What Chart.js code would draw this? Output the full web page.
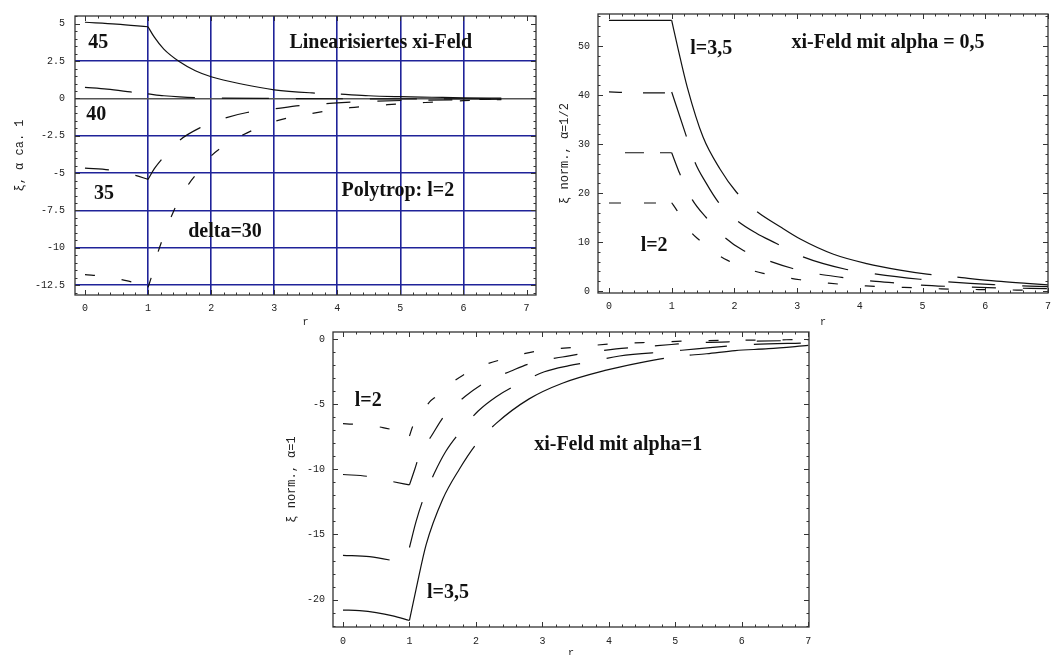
<!DOCTYPE html>
<html>
<head>
<meta charset="utf-8">
<script src="https://cdn.jsdelivr.net/npm/chart.js@4.4.0/dist/chart.umd.min.js"></script>
<style>
  html, body { margin: 0; padding: 0; background: #fff; overflow: hidden; }
  #wrap { position: relative; width: 1051px; height: 655px; overflow: hidden; background: #fff; }
  canvas { position: absolute; }
</style>
</head>
<body>
<div id="wrap">
  <canvas id="c1" width="545" height="330" style="left:0px;top:0px"></canvas>
  <canvas id="c2" width="520" height="330" style="left:545px;top:0px"></canvas>
  <canvas id="c3" width="560" height="345" style="left:270px;top:318px"></canvas>
</div>
<script>
// tick values
const xTicks = [0, 1, 2, 3, 4, 5, 6, 7];
const c1YTicks = [5, 2.5, 0, -2.5, -5, -7.5, -10, -12.5];
const c2YTicks = [0, 10, 20, 30, 40, 50];
const c3YTicks = [0, -5, -10, -15, -20];

// chart 1: linearisiertes xi-Feld, [r, xi]; inner part r<1 and outer part r>1
const lin45In = [[0, 5.1], [0.5, 4.98], [1, 4.8]];
const lin45Out = [[1, 4.8], [1.1, 4.1], [1.25, 3.3], [1.5, 2.45], [1.75, 1.85], [2, 1.45], [2.5, 0.95], [3, 0.58], [3.6, 0.37], [4, 0.3], [4.5, 0.18], [5, 0.12], [5.5, 0.08], [6, 0.04], [6.6, 0.02]];
const lin40In = [[0, 0.74], [0.35, 0.62], [0.72, 0.44], [1, 0.3]];
const lin40Out = [[1, 0.3], [1.25, 0.18], [1.5, 0.1], [1.75, 0.05], [2.2, 0.02], [3, 0], [4, -0.02], [5, -0.03], [6, -0.03], [6.6, -0.03]];
const lin35In = [[0, -4.67], [0.4, -4.8], [0.8, -5.15], [1, -5.42]];
const lin35Out = [[1, -5.42], [1.1, -4.7], [1.22, -4.05], [1.5, -2.8], [1.82, -1.97], [2.22, -1.31], [2.57, -0.94], [3, -0.7], [3.4, -0.48], [4, -0.3], [4.6, -0.18], [5.3, -0.12], [6, -0.08], [6.6, -0.05]];
const lin30In = [[0, -11.8], [0.3, -11.9], [0.6, -12.15], [0.8, -12.35], [1, -12.65]];
const lin30Out = [[1, -12.65], [1.05, -12.0], [1.15, -10.4], [1.25, -9.2], [1.35, -8.1], [1.5, -6.7], [1.65, -5.7], [1.8, -4.9], [2, -3.85], [2.25, -3.05], [2.5, -2.45], [3, -1.55], [3.6, -1.0], [4.2, -0.62], [4.8, -0.42], [5.4, -0.27], [6, -0.15], [6.6, -0.08]];

// chart 2: alpha = 0.5
const half35In = [[0, 55.2], [1, 55.2]];
const half35Out = [[1, 55.2], [1.1, 49.5], [1.25, 41.5], [1.5, 31.4], [1.77, 24.9], [2.03, 20.2], [2.33, 16.5], [2.73, 13.1], [3.05, 10.6], [3.58, 7.5], [4.11, 5.6], [4.64, 4.27], [5.07, 3.45], [5.5, 2.9], [6.18, 2.03], [6.66, 1.56], [7, 1.25]];
const half3In = [[0, 40.6], [0.5, 40.4], [1, 40.4]];
const half3Out = [[1, 40.6], [1.23, 31.7], [1.37, 26.3], [1.55, 22.0], [1.74, 18.2], [2.04, 14.4], [2.35, 11.8], [2.67, 9.7], [3.05, 7.2], [3.79, 4.4], [4.19, 3.6], [4.96, 2.4], [5.38, 1.9], [6.13, 1.3], [7, 0.9]];
const half25In = [[0, 28.2], [1, 28.2]];
const half25Out = [[1, 28.2], [1.13, 23.9], [1.33, 18.6], [1.55, 15], [1.85, 10.9], [2.15, 8.2], [2.54, 6.2], [2.93, 4.6], [3.34, 3.46], [3.71, 2.8], [4.14, 2.1], [4.51, 1.7], [4.93, 1.25], [5.5, 0.9], [6.2, 0.65], [7, 0.5]];
const half2In = [[0, 17.95], [1, 17.95]];
const half2Out = [[1, 18.0], [1.08, 16.5], [1.2, 14.0], [1.32, 11.85], [1.44, 10.4], [1.6, 8.6], [1.77, 7.1], [1.9, 6.2], [2.1, 5.1], [2.31, 4.1], [2.46, 3.6], [2.89, 2.6], [3.05, 2.3], [3.5, 1.6], [4.1, 1.05], [4.7, 0.75], [5.3, 0.45], [5.9, 0.3], [6.5, 0.2], [7, 0.15]];

// chart 3: alpha = 1
const one35In = [[0, -20.8], [0.25, -20.85], [0.5, -21.0], [0.75, -21.25], [1, -21.6]];
const one35Out = [[1, -21.6], [1.1, -19.2], [1.25, -15.8], [1.5, -12.3], [1.75, -10.0], [2, -8.1], [2.3, -6.5], [2.8, -4.6], [3.3, -3.4], [3.96, -2.4], [4.46, -1.84], [5.02, -1.34], [5.47, -1.14], [5.9, -0.9], [6.4, -0.75], [7, -0.5]];
const one3In = [[0, -16.6], [0.4, -16.7], [0.74, -17.0], [1, -17.3]];
const one3Out = [[1, -16.0], [1.1, -14.0], [1.2, -12.4], [1.37, -10.35], [1.55, -8.6], [1.74, -7.27], [2.03, -5.55], [2.3, -4.45], [2.63, -3.48], [3.03, -2.52], [3.4, -2.05], [3.76, -1.72], [4.16, -1.31], [4.92, -0.96], [5.32, -0.76], [6.07, -0.45], [7, -0.3]];
const one25In = [[0, -10.4], [0.38, -10.55], [0.75, -10.95], [1, -11.2]];
const one25Out = [[1, -11.2], [1.08, -10.0], [1.15, -8.9], [1.33, -7.45], [1.52, -5.93], [1.84, -4.4], [2.15, -3.3], [2.52, -2.48], [2.89, -1.77], [3.3, -1.39], [3.68, -1.06], [4.11, -0.76], [4.46, -0.63], [4.94, -0.43], [5.27, -0.3], [6, -0.2], [7, -0.1]];
const one2In = [[0, -6.5], [0.3, -6.6], [0.6, -6.8], [0.8, -7.05], [1, -7.45]];
const one2Out = [[1, -7.45], [1.05, -6.7], [1.2, -5.6], [1.3, -4.85], [1.42, -4.34], [1.6, -3.5], [1.8, -2.8], [2.05, -2.15], [2.37, -1.6], [2.9, -0.95], [3.5, -0.63], [4.07, -0.37], [4.7, -0.25], [5.25, -0.15], [6, -0.1], [7, -0.05]];

const NAVY = '#1f2399';
const INK = '#111';
const tickFont = { family: '"Liberation Mono", "DejaVu Sans Mono", monospace', size: 10 };
const titleFont = { family: '"Liberation Mono", "DejaVu Sans Mono", monospace', size: 12 };
const dash = { solid: [188, 26], long: [47, 27], medium: [24, 27], short: [10, 27] };

function curve(pts, pattern, offset) {
  return {
    data: pts.map(p => ({ x: p[0], y: p[1] })),
    borderColor: INK,
    borderWidth: 1.2,
    borderDash: pattern,
    borderDashOffset: offset || 0,
    pointRadius: 0,
    cubicInterpolationMode: 'monotone',
    fill: false
  };
}

// Mathematica style frame with inward ticks, plus the text notes
function frame(notes, step) {
  return {
    id: 'frame',
    afterDatasetsDraw(chart) {
      const { ctx, chartArea: a, scales: { x, y } } = chart;
      ctx.save();
      ctx.strokeStyle = '#333';
      ctx.lineWidth = 1;
      const marks = (scale, minor, major, horiz) => {
        const start = Math.ceil(scale.min / minor - 1e-9);
        for (let i = start; i * minor <= scale.max + 1e-9; i++) {
          const v = i * minor;
          const len = Math.abs(v / major - Math.round(v / major)) < 1e-6 ? 5 : 2.5;
          const p = Math.round(scale.getPixelForValue(v)) + 0.5;
          ctx.beginPath();
          if (horiz) {
            ctx.moveTo(p, a.bottom); ctx.lineTo(p, a.bottom - len);
            ctx.moveTo(p, a.top); ctx.lineTo(p, a.top + len);
          } else {
            ctx.moveTo(a.left, p); ctx.lineTo(a.left + len, p);
            ctx.moveTo(a.right, p); ctx.lineTo(a.right - len, p);
          }
          ctx.stroke();
        }
      };
      marks(x, 0.2, 1, true);
      marks(y, step.minor, step.major, false);
      ctx.lineWidth = 1.3;
      ctx.strokeRect(a.left, a.top, a.right - a.left, a.bottom - a.top);
      ctx.fillStyle = INK;
      ctx.font = 'bold 20px "Liberation Serif", "DejaVu Serif", serif';
      ctx.textAlign = 'center';
      ctx.textBaseline = 'middle';
      notes.forEach(n => ctx.fillText(n.text, x.getPixelForValue(n.x), y.getPixelForValue(n.y)));
      ctx.restore();
    }
  };
}

function makeChart(id, o) {
  return new Chart(document.getElementById(id), {
    type: 'line',
    data: { datasets: o.datasets },
    options: {
      responsive: false,
      animation: false,
      events: [],
      layout: { padding: { left: 0, right: o.padRight, top: o.padTop, bottom: 0 } },
      plugins: { legend: { display: false }, tooltip: { enabled: false } },
      scales: {
        x: {
          type: 'linear', min: o.xMin, max: o.xMax,
          afterBuildTicks: s => { s.ticks = xTicks.map(v => ({ value: v })); },
          afterFit: s => { s.height = o.xH; },
          ticks: { padding: o.xPad, font: tickFont, color: '#222', maxRotation: 0, autoSkip: false, callback: v => String(v) },
          grid: {
            display: !!o.grid, drawTicks: false, lineWidth: 1.6,
            color: c => (c.tick && c.tick.value >= 1 && c.tick.value <= 6) ? NAVY : 'rgba(0,0,0,0)'
          },
          border: { display: false },
          title: { display: true, text: 'r', font: tickFont, color: '#222', padding: { top: 0, bottom: o.xTitlePad } }
        },
        y: {
          type: 'linear', min: o.yMin, max: o.yMax,
          afterBuildTicks: s => { s.ticks = o.yTicks.map(v => ({ value: v })); },
          afterFit: s => { s.width = o.yW; },
          ticks: { padding: o.yPad, font: tickFont, color: '#222', autoSkip: false, callback: v => String(v) },
          grid: {
            display: !!o.grid, drawTicks: false, lineWidth: 1.6,
            color: c => !c.tick ? 'rgba(0,0,0,0)' : (c.tick.value === 0 ? '#555' : (c.tick.value < 5 ? NAVY : 'rgba(0,0,0,0)'))
          },
          border: { display: false },
          title: { display: true, text: o.yTitle, font: titleFont, color: '#222', padding: { top: o.yTitlePad, bottom: 0 } }
        }
      }
    },
    plugins: [frame(o.notes, o.yStep)]
  });
}

makeChart('c1', {
  datasets: [
    curve(lin45In, dash.solid), curve(lin45Out, dash.solid),
    curve(lin40In, dash.long), curve(lin40Out, dash.long),
    curve(lin35In, dash.medium), curve(lin35Out, dash.medium),
    curve(lin30In, dash.short), curve(lin30Out, dash.short)
  ],
  grid: true,
  xMin: -0.158, xMax: 7.15, yMin: -13.16, yMax: 5.52,
  yTicks: c1YTicks, yStep: { minor: 0.5, major: 2.5 },
  padRight: 9, padTop: 10, xH: 35, yW: 75, xPad: 7, yPad: 10,
  xTitlePad: 2, yTitlePad: 13, yTitle: 'ξ, α ca. 1',
  notes: [
    { text: '45', x: 0.21, y: 3.72 },
    { text: '40', x: 0.18, y: -1.1 },
    { text: '35', x: 0.3, y: -6.36 },
    { text: 'delta=30', x: 2.22, y: -8.9 },
    { text: 'Linearisiertes xi-Feld', x: 4.69, y: 3.75 },
    { text: 'Polytrop: l=2', x: 4.96, y: -6.21 }
  ]
});

makeChart('c2', {
  datasets: [
    curve(half35In, dash.solid), curve(half35Out, dash.solid),
    curve(half3In, [13, 21, 22, 20]), curve(half3Out, dash.long),
    curve(half25In, [19, 16], 19), curve(half25Out, dash.medium),
    curve(half2In, [12, 23]), curve(half2Out, dash.short)
  ],
  grid: false,
  xMin: -0.175, xMax: 7.0, yMin: -0.4, yMax: 56.5,
  yTicks: c2YTicks, yStep: { minor: 2, major: 10 },
  padRight: 17, padTop: 13, xH: 37, yW: 53, xPad: 7, yPad: 8,
  xTitlePad: 2, yTitlePad: 13, yTitle: 'ξ norm., α=1/2',
  notes: [
    { text: 'l=3,5', x: 1.63, y: 49.4 },
    { text: 'xi-Feld mit alpha = 0,5', x: 4.45, y: 50.6 },
    { text: 'l=2', x: 0.72, y: 9.15 }
  ]
});

makeChart('c3', {
  datasets: [
    curve(one35In, dash.solid), curve(one35Out, dash.solid),
    curve(one3In, dash.long), curve(one3Out, dash.long),
    curve(one25In, dash.medium), curve(one25Out, dash.medium),
    curve(one2In, dash.short), curve(one2Out, dash.short)
  ],
  grid: false,
  xMin: -0.15, xMax: 7.01, yMin: -22.1, yMax: 0.53,
  yTicks: c3YTicks, yStep: { minor: 1, major: 5 },
  padRight: 21, padTop: 10, xH: 36, yW: 63, xPad: 8, yPad: 8,
  xTitlePad: 4, yTitlePad: 15, yTitle: 'ξ norm., α=1',
  notes: [
    { text: 'l=2', x: 0.38, y: -4.77 },
    { text: 'l=3,5', x: 1.58, y: -19.45 },
    { text: 'xi-Feld mit alpha=1', x: 4.14, y: -8.1 }
  ]
});
</script>
</body>
</html>
